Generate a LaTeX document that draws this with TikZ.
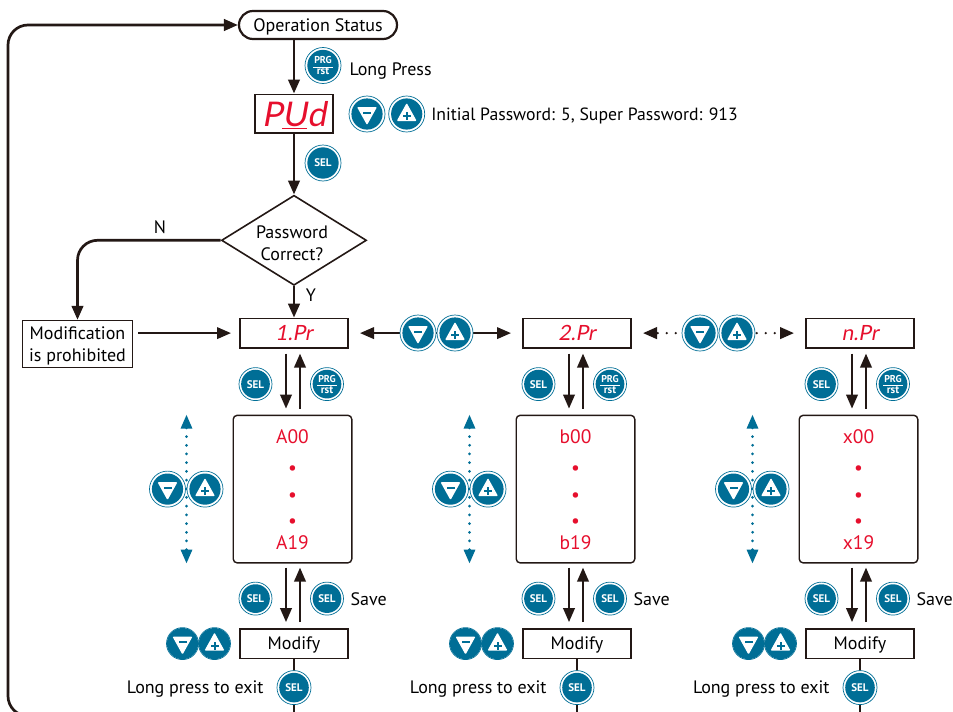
\documentclass[tikz,border=0pt]{standalone}
\usepackage{fontspec}
\setmainfont{PT Sans}
\newfontfamily\segfont[FakeSlant=0.18]{Lato}
\usetikzlibrary{arrows.meta}
\usetikzlibrary{shapes.geometric}
\usetikzlibrary{positioning, calc}
\definecolor{keyblue}{HTML}{006E96}
\definecolor{inkdark}{HTML}{231815}
\definecolor{segred}{HTML}{E60F2D}
\tikzstyle{every node} = [text depth=0pt]
\tikzstyle{dispbox} = [draw=inkdark,rectangle,line width=1.6pt,minimum height=29.4pt,minimum width=108.4pt,inner sep=0pt]
\tikzstyle{segtext} = [text=segred,font=\segfont\fontsize{21}{21}\selectfont]
\tikzstyle{panel} = [draw=inkdark,rectangle,rounded corners=4pt,line width=1.4pt,minimum height=147.6pt,minimum width=118.6pt,align=center,text=segred,font=\fontsize{19.5}{22}\selectfont,xshift=-1.5pt]
\tikzstyle{flow} = [->,line width=2.7pt,draw=inkdark,>={Triangle[length=14pt,width=11.5pt]}]
\tikzstyle{flowthin} = [flow,line width=2.2pt]
\tikzstyle{scroll} = [<->,line width=3pt,draw=keyblue,line cap=round,dash pattern=on 0pt off 8.7pt,>={Triangle[length=14pt,width=11pt]}]
\tikzstyle{keybase}[16.5] = [circle,draw=keyblue,line width=.7pt,fill=white,minimum size=#1*2pt,inner sep=0pt,text=white,font=\bfseries\fontsize{11}{9}\selectfont,align=center,
  path picture={\fill[keyblue] (path picture bounding box.center) circle (#1*0.87pt);}]
\tikzstyle{keydown}[18] = [keybase=#1,
  path picture={\begin{scope}[shift={(path picture bounding box.center)},scale=#1/18]
    \fill[keyblue] (0,0) circle (15.6);
    \fill[white,rounded corners=1pt] (-10,-7) -- (10,-7) -- (0,11) -- cycle;
    \fill[keyblue] (-4,-2.2) rectangle (4,-.2);
  \end{scope}}]
\tikzstyle{keyup}[18] = [keybase=#1,
  path picture={\begin{scope}[shift={(path picture bounding box.center)},scale=#1/18]
    \fill[keyblue] (0,0) circle (15.6);
    \fill[white,rounded corners=1pt] (-10,7) -- (10,7) -- (0,-11) -- cycle;
    \fill[keyblue] (-4,1) rectangle (4,3);
    \fill[keyblue] (-1,-2) rectangle (1,6);
  \end{scope}}]
\newcommand{\prgrst}{\fontsize{10}{9}\selectfont PRG\\[-1.5pt]\rule[3.5pt]{20pt}{.8pt}\\[-5.5pt]rst}
\begin{document}
\begin{tikzpicture}[x=1pt,y=-1pt]
\fontsize{18}{22}\selectfont
  \clip (0,0) rectangle (953,712);

  \node[draw=inkdark,rounded corners=14pt,line width=2.2pt,minimum width=158pt,minimum height=28pt,inner sep=0pt] (status) at (318,25) {Operation Status};

  \node[dispbox,minimum width=78.4pt,minimum height=38.4pt] (pwd) at (294,113.5) {};
  \node[text=segred,font=\segfont\fontsize{34}{34}\selectfont] (pwdtext) at (pwd) {P\underline{U}d};

  \node[draw=inkdark,diamond,line width=1.6pt,minimum width=145pt,minimum height=90pt,aspect=1.63,inner sep=0pt,below = 61pt of pwd] (check) {};
  \node[align=center,xshift=-2pt,yshift=-3pt] (checktext) at (check) {Password\\Correct?};

  \node[dispbox, below = 31.5pt of check] (pr1) {};
  \node[segtext] (pr1text) at (pr1) {1.Pr};
  \node[dispbox, right = 173pt of pr1] (pr2) {};
  \node[segtext] (pr2text) at (pr2) {2.Pr};
  \node[dispbox, right = 173pt of pr2] (prn) {};
  \node[segtext] (prntext) at (prn) {n.Pr};

  \node[draw=inkdark,rectangle,line width=1.4pt,minimum width=110pt,minimum height=47pt,inner sep=0pt,align=center] (prohib) at (77.5,344) {Modification\\is prohibited};

  \node[panel, below = 66pt of pr1] (panel1) {A00\\[9pt]\textbullet\\[5pt]\textbullet\\[4pt]\textbullet\\[0pt]A19};
  \node[panel, below = 66pt of pr2] (panel2) {b00\\[9pt]\textbullet\\[5pt]\textbullet\\[4pt]\textbullet\\[0pt]b19};
  \node[panel, below = 66pt of prn] (paneln) {x00\\[9pt]\textbullet\\[5pt]\textbullet\\[4pt]\textbullet\\[0pt]x19};

  \node[dispbox, below = 64.5pt of panel1, xshift=1.5pt] (modify1) {Modify};
  \node[dispbox, below = 64.5pt of panel2, xshift=1.5pt] (modify2) {Modify};
  \node[dispbox, below = 64.5pt of paneln, xshift=1.5pt] (modifyn) {Modify};

% now link the nodes

\draw [flow] (status.south -| pwd) -- (pwd.north);
\draw [flow] (pwd.south) -- (check.north);
\draw [flow] (check.south) -- (pr1.north);
\draw [flow, rounded corners=20pt] (check.west) -| (prohib.north);
\draw [flowthin] ([xshift=5pt]prohib.east |- pr1) -- ([xshift=-8pt]pr1.west);
\draw [flowthin, <->] ([xshift=11pt]pr1.east) -- ([xshift=-11pt]pr2.west);
\draw [flowthin, <->, line width=2.6pt, line cap=round, dash pattern=on 0pt off 9pt, dash phase=7.6pt] ([xshift=11pt]pr2.east) -- ([xshift=-11pt]prn.west);

\draw [flowthin] ([shift={(-8,5)}]pr1.south) -- ([shift={(-6.5,-6)}]panel1.north);
\draw [flowthin] ([shift={(7.5,-6)}]panel1.north) -- ([shift={(6,5)}]pr1.south);
\draw [flowthin] ([shift={(-8,5)}]pr2.south) -- ([shift={(-6.5,-6)}]panel2.north);
\draw [flowthin] ([shift={(7.5,-6)}]panel2.north) -- ([shift={(6,5)}]pr2.south);
\draw [flowthin] ([shift={(-8,5)}]prn.south) -- ([shift={(-6.5,-6)}]paneln.north);
\draw [flowthin] ([shift={(7.5,-6)}]paneln.north) -- ([shift={(6,5)}]prn.south);

\draw [flowthin] ([shift={(-6.5,4)}]panel1.south) -- ([shift={(-8,-6)}]modify1.north);
\draw [flowthin] ([shift={(6,-6)}]modify1.north) -- ([shift={(7.5,4)}]panel1.south);
\draw [flowthin] ([shift={(-6.5,4)}]panel2.south) -- ([shift={(-8,-6)}]modify2.north);
\draw [flowthin] ([shift={(6,-6)}]modify2.north) -- ([shift={(7.5,4)}]panel2.south);
\draw [flowthin] ([shift={(-6.5,4)}]paneln.south) -- ([shift={(-8,-6)}]modifyn.north);
\draw [flowthin] ([shift={(6,-6)}]modifyn.north) -- ([shift={(7.5,4)}]paneln.south);

\draw [scroll] ([xshift=-46pt]panel1.north west) -- ([xshift=-46pt]panel1.south west);
\draw [scroll] ([xshift=-46pt]panel2.north west) -- ([xshift=-46pt]panel2.south west);
\draw [scroll] ([xshift=-46pt]paneln.north west) -- ([xshift=-46pt]paneln.south west);

% exit lines run back to the top along the lower edge
\coordinate (exit) at (8,716);
\draw [flow, rounded corners=20pt] (modifyn.south |- exit) -- (exit) |- (status.west);
\draw [flow, -] (modify1.south) -- (modify1.south |- exit);
\draw [flow, -] (modify2.south) -- (modify2.south |- exit);
\draw [flow, -] (modifyn.south) -- (modifyn.south |- exit);

% keys go on top of the lines

  \node[keybase=18] (prgtop) at (323,65.5) {\prgrst};
  \node[right = 2pt of prgtop, yshift=-4pt] (longpress) {Long Press};
  \node[keydown] (pwddown) at (367,114) {};
  \node[keyup, right = 3pt of pwddown] (pwdup) {};
  \node[right = 0pt of pwdup, font=\fontsize{17.7}{22}\selectfont] (pwdnote) {Initial Password: 5, Super Password: 913};
  \node[keybase=18] (seltop) at (323,163) {SEL};
  \node (nlabel) at (160,227) {N};
  \node (ylabel) at (311,295) {Y};

  \node[keydown] (rowdown1) at (418,333) {};
  \node[keyup] (rowup1) at (455,333) {};
  \node[keydown] (rowdown2) at (700,333) {};
  \node[keyup] (rowup2) at (737,333) {};

  \node[keybase] (sel1) at ([shift={(-38.5,51)}]pr1.center) {SEL};
  \node[keybase] (prg1) at ([shift={(33,51)}]pr1.center) {\prgrst};
  \node[keybase] (sel2) at ([shift={(-38.5,51)}]pr2.center) {SEL};
  \node[keybase] (prg2) at ([shift={(33,51)}]pr2.center) {\prgrst};
  \node[keybase] (seln) at ([shift={(-38.5,51)}]prn.center) {SEL};
  \node[keybase] (prgn) at ([shift={(33,51)}]prn.center) {\prgrst};

  \node[keydown] (down1) at ([xshift=-125pt]panel1.center) {};
  \node[keyup] (up1) at ([xshift=-87.5pt]panel1.center) {};
  \node[keydown] (down2) at ([xshift=-125pt]panel2.center) {};
  \node[keyup] (up2) at ([xshift=-87.5pt]panel2.center) {};
  \node[keydown] (downn) at ([xshift=-125pt]paneln.center) {};
  \node[keyup] (upn) at ([xshift=-87.5pt]paneln.center) {};

  \node[keybase] (enter1) at ([shift={(-38.5,-45)}]modify1.center) {SEL};
  \node[keybase] (save1) at ([shift={(33,-45)}]modify1.center) {SEL};
  \node[right = .5pt of save1] (savetext1) {Save};
  \node[keybase] (enter2) at ([shift={(-38.5,-45)}]modify2.center) {SEL};
  \node[keybase] (save2) at ([shift={(33,-45)}]modify2.center) {SEL};
  \node[right = .5pt of save2] (savetext2) {Save};
  \node[keybase] (entern) at ([shift={(-38.5,-45)}]modifyn.center) {SEL};
  \node[keybase] (saven) at ([shift={(33,-45)}]modifyn.center) {SEL};
  \node[right = .5pt of saven] (savetextn) {Save};

  \node[keydown=16] (moddown1) at ([xshift=-111.5pt]modify1.center) {};
  \node[keyup=16] (modup1) at ([xshift=-79.5pt]modify1.center) {};
  \node[keydown=16] (moddown2) at ([xshift=-111.5pt]modify2.center) {};
  \node[keyup=16] (modup2) at ([xshift=-79.5pt]modify2.center) {};
  \node[keydown=16] (moddownn) at ([xshift=-111.5pt]modifyn.center) {};
  \node[keyup=16] (modupn) at ([xshift=-79.5pt]modifyn.center) {};

  \node[keybase=17] (exit1) at ([yshift=-44pt]modify1.center) {SEL};
  \node[left = 7pt of exit1] (exittext1) {Long press to exit};
  \node[keybase=17] (exit2) at ([yshift=-44pt]modify2.center) {SEL};
  \node[left = 7pt of exit2] (exittext2) {Long press to exit};
  \node[keybase=17] (exitn) at ([yshift=-44pt]modifyn.center) {SEL};
  \node[left = 7pt of exitn] (exittextn) {Long press to exit};
\end{tikzpicture}
\end{document}
